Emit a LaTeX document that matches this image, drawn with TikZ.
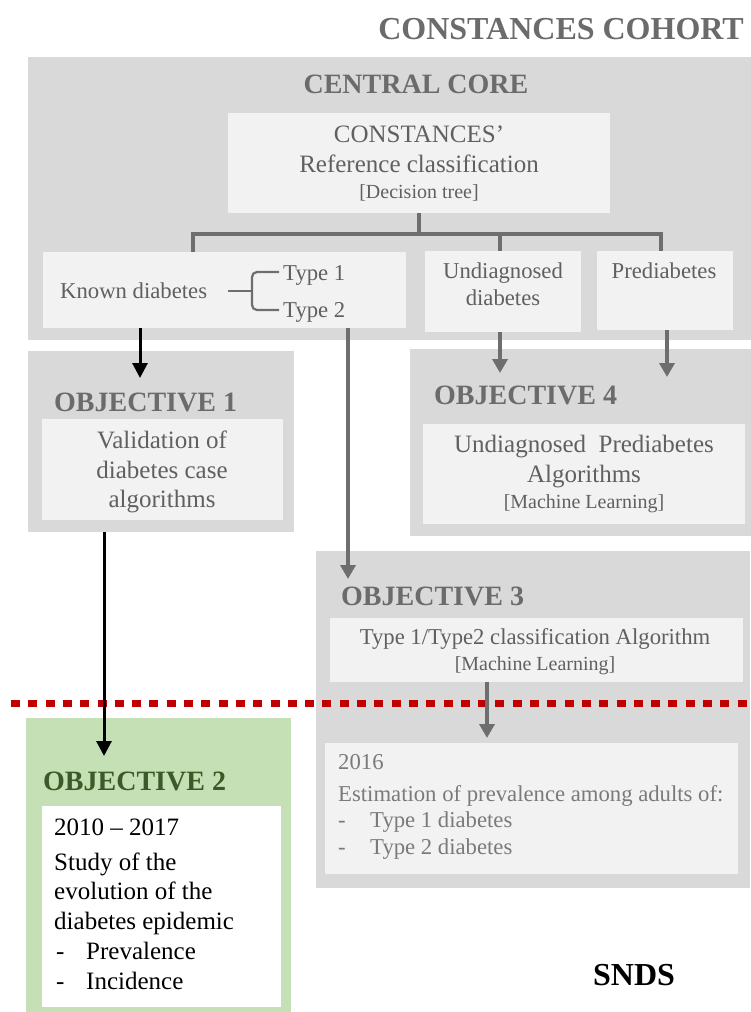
\documentclass[tikz,border=0pt]{standalone}
\usepackage{fontspec}
\setmainfont{Liberation Serif}
\usetikzlibrary{arrows.meta}
\definecolor{outerg}{HTML}{D9D9D9}
\definecolor{innerg}{HTML}{F2F2F2}
\definecolor{titleg}{HTML}{6B6B6B}
\definecolor{textg}{HTML}{606060}
\definecolor{lightt}{HTML}{7A7A7A}
\definecolor{lineg}{HTML}{6E6E6E}
\definecolor{greenbox}{HTML}{C5E0B4}
\definecolor{greent}{HTML}{3A5A28}
\definecolor{redd}{HTML}{C00000}
\begin{document}
\begin{tikzpicture}[x=1pt,y=-1pt,
  panel/.style={fill=outerg, draw=none, inner sep=0pt, anchor=north west},
  inbox/.style={fill=innerg, draw=none, inner sep=0pt, anchor=north west},
  txt/.style={inner sep=0pt, anchor=base, text=textg},
  ltxt/.style={inner sep=0pt, anchor=base west, text=textg},
  headt/.style={inner sep=0pt, anchor=base west, text=titleg, font=\fontsize{28}{32}\selectfont\bfseries},
  treeline/.style={draw=lineg, line width=4pt},
  garrow/.style={draw=lineg, line width=3.5pt, -{Triangle[length=14pt,width=15pt]}},
  barrow/.style={draw=black, line width=3pt, -{Triangle[length=15pt,width=15pt]}},
  f22/.style={font=\fontsize{22.7}{26}\selectfont},
  f25/.style={font=\fontsize{25}{30}\selectfont},
  f20/.style={font=\fontsize{20}{24}\selectfont}
]
\path[use as bounding box] (0,0) rectangle (751,1012);

% title
\node[inner sep=0pt, anchor=base east, text=titleg, font=\fontsize{32}{36}\selectfont\bfseries] (title) at (744,39) {CONSTANCES COHORT};

% central core
\node[panel, minimum width=723pt, minimum height=283pt] (core) at (28,57) {};
\node[txt, text=titleg, font=\fontsize{28}{32}\selectfont\bfseries] (coret) at (416,93) {CENTRAL CORE};
\node[inbox, minimum width=382pt, minimum height=100pt] (const) at (228,113) {};
\node[txt, f25] (c1) at (419,142) {CONSTANCES’};
\node[txt, f25] (c2) at (419,172) {Reference classification};
\node[txt, f20] (c3) at (419,198) {[Decision tree]};

\node[inbox, minimum width=363pt, minimum height=76pt] (known) at (43,252) {};
\node[inbox, minimum width=156pt, minimum height=81pt] (undiag) at (425,251) {};
\node[inbox, minimum width=136pt, minimum height=79pt] (prediab) at (597,251) {};

\node[ltxt, f22] (kd) at (60,298) {Known diabetes};
\node[ltxt, f22] (t1) at (283,280) {Type 1};
\node[ltxt, f22] (t2) at (283,317) {Type 2};
\node[txt, f22] (ud1) at (503,278) {Undiagnosed};
\node[txt, f22] (ud2) at (503,305) {diabetes};
\node[txt, f22] (pd) at (664,278) {Prediabetes};

% brace
\coordinate (btip) at (228,291);
\coordinate (bmid) at (252,291);
\coordinate (btop) at (279,272);
\coordinate (bbot) at (279,310);
\draw[draw=lineg, line width=2.2pt, line join=round] (btip) -- (bmid);
\draw[draw=lineg, line width=2.2pt, rounded corners=5pt] (btop) -- (252,272) -- (bmid) -- (252,310) -- (bbot);

% tree
\coordinate (tl) at (193,234);
\coordinate (tm) at (500,234);
\coordinate (tr) at (661,234);
\draw[treeline] (const.south -| 419,0) -- (419,234);
\draw[treeline, line cap=rect] (tl) -- (tr);
\draw[treeline] (tl) -- (tl |- known.north);
\draw[treeline] (tm) -- (tm |- undiag.north);
\draw[treeline] (tr) -- (tr |- prediab.north);

% objective 1
\node[panel, minimum width=266pt, minimum height=181pt] (obj1) at (28,351) {};
\node[headt] (o1t) at (54,411) {OBJECTIVE 1};
\node[inbox, minimum width=241pt, minimum height=101pt] (obj1in) at (42,419) {};
\node[txt, f25] (v1) at (162,448) {Validation of};
\node[txt, f25] (v2) at (162,478) {diabetes case};
\node[txt, f25] (v3) at (162,507) {algorithms};

% objective 4
\node[panel, minimum width=341pt, minimum height=187pt] (obj4) at (410,349) {};
\node[headt] (o4t) at (434,404) {OBJECTIVE 4};
\node[inbox, minimum width=322pt, minimum height=100pt] (obj4in) at (423,424) {};
\node[txt, f25] (u1) at (584,452) {Undiagnosed\ \ Prediabetes};
\node[txt, f25] (u2) at (584,482) {Algorithms};
\node[txt, f20] (u3) at (584,508) {[Machine Learning]};

% objective 3
\node[panel, minimum width=434pt, minimum height=337pt] (obj3) at (316,551) {};
\node[headt] (o3t) at (341,605) {OBJECTIVE 3};
\node[inbox, minimum width=413pt, minimum height=64pt] (obj3in) at (330,618) {};
\node[txt, f22] (a1) at (535,644) {Type 1/Type2 classification Algorithm};
\node[txt, f20] (a2) at (535,670) {[Machine Learning]};
\node[inbox, minimum width=413pt, minimum height=131pt] (obj3low) at (325,743) {};
\node[ltxt, f22, text=lightt] (e0) at (338,769) {2016};
\node[ltxt, f22, text=lightt] (e1) at (338,801) {Estimation of prevalence among adults of:};
\node[ltxt, f22, text=lightt] (e2d) at (338,827) {-};
\node[ltxt, f22, text=lightt] (e2) at (370,827) {Type 1 diabetes};
\node[ltxt, f22, text=lightt] (e3d) at (338,854) {-};
\node[ltxt, f22, text=lightt] (e3) at (370,854) {Type 2 diabetes};

% objective 2
\node[fill=greenbox, draw=none, inner sep=0pt, anchor=north west, minimum width=265pt, minimum height=294pt] (obj2) at (26,718) {};
\node[headt, text=greent] (o2t) at (43,790) {OBJECTIVE 2};
\node[fill=white, draw=none, inner sep=0pt, anchor=north west, minimum width=239pt, minimum height=201pt] (obj2in) at (42,806) {};
\node[ltxt, f25, text=black] (s0) at (54,835) {2010 – 2017};
\node[ltxt, f25, text=black] (s1) at (54,870) {Study of the};
\node[ltxt, f25, text=black] (s2) at (54,899) {evolution of the};
\node[ltxt, f25, text=black] (s3) at (54,929) {diabetes epidemic};
\node[ltxt, f25, text=black] (s4d) at (56,959) {-};
\node[ltxt, f25, text=black] (s4) at (86,959) {Prevalence};
\node[ltxt, f25, text=black] (s5d) at (56,989) {-};
\node[ltxt, f25, text=black] (s5) at (86,989) {Incidence};

% SNDS
\node[inner sep=0pt, anchor=base west, text=black, font=\fontsize{32}{36}\selectfont\bfseries] (snds) at (593,985) {SNDS};

% dotted red line
\coordinate (dl) at (11,703);
\coordinate (dr) at (751,703);
\draw[draw=redd, line width=7pt, dash pattern=on 9pt off 8.3pt] (dl) -- (dr);

% arrows
\coordinate (k1) at (140,328);
\coordinate (k1e) at (140,378);
\draw[barrow] (k1) -- (k1e);
\coordinate (k2) at (348,328);
\coordinate (k2e) at (348,579);
\draw[garrow] (k2) -- (k2e);
\coordinate (u0) at (500,332);
\coordinate (u0e) at (500,373);
\draw[garrow] (u0) -- (u0e);
\coordinate (p0) at (667,330);
\coordinate (p0e) at (667,377);
\draw[garrow] (p0) -- (p0e);
\coordinate (o1b) at (104,532);
\coordinate (o2e) at (104,756);
\draw[barrow] (o1b) -- (o2e);
\coordinate (o3b) at (487,682);
\coordinate (o3e) at (487,738);
\draw[garrow] (o3b) -- (o3e);
\end{tikzpicture}
\end{document}
